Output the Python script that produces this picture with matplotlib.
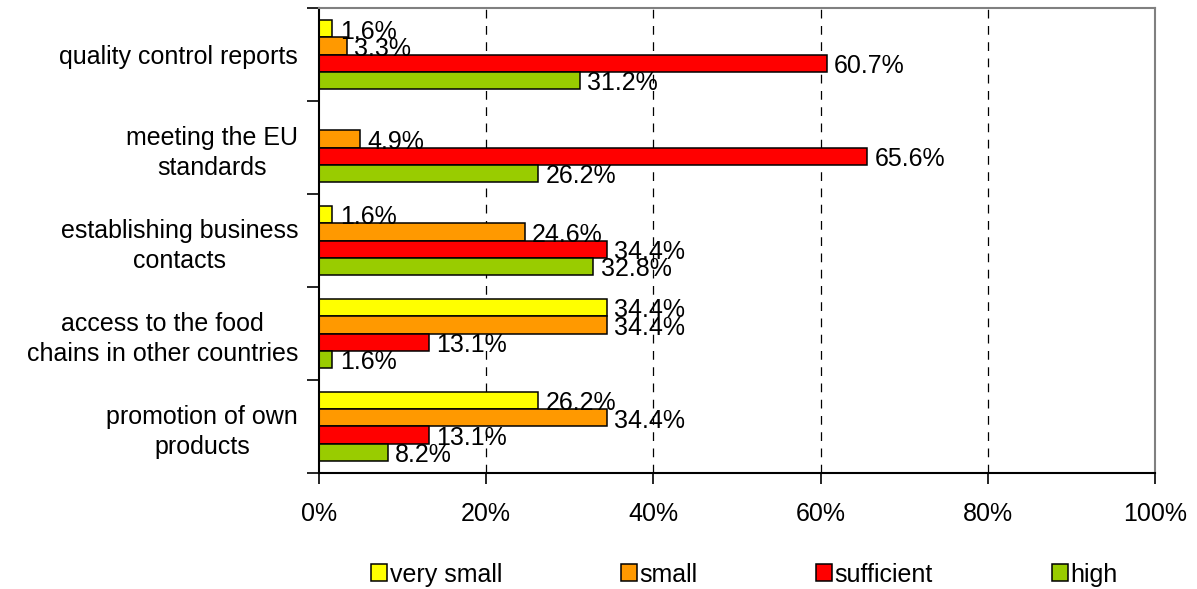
import numpy as np
import matplotlib
matplotlib.use("Agg")
import matplotlib.pyplot as plt
from matplotlib.ticker import FixedLocator, PercentFormatter

plt.rcParams['font.family'] = ['Liberation Sans', 'DejaVu Sans']

categories = [
    "quality control reports",
    "meeting the EU\nstandards",
    "establishing business\ncontacts",
    "access to the food\nchains in other countries",
    "promotion of own\nproducts",
]
series_names = ["very small", "small", "sufficient", "high"]
very_small = [1.6, 0.0, 1.6, 34.4, 26.2]
small = [3.3, 4.9, 24.6, 34.4, 34.4]
sufficient = [60.7, 65.6, 34.4, 13.1, 13.1]
high = [31.2, 26.2, 32.8, 1.6, 8.2]
colors = ["#FFFF00", "#FF9900", "#FF0000", "#99CC00"]

FS = 18

fig = plt.figure(figsize=(11.97, 5.89), dpi=100)
ax = fig.add_axes([0.2665, 0.197, 0.6985, 0.789])

y = np.arange(len(categories))
h = 0.186
for i, (name, vals, col) in enumerate(zip(series_names, [very_small, small, sufficient, high], colors)):
    pos = y + (i - 1.5) * h
    ax.barh(pos, vals, height=h, color=col, edgecolor="black", linewidth=1.1, label=name)
    for p, v in zip(pos, vals):
        if v > 0:
            ax.text(v + 0.9, p + 0.03, "%.1f%%" % v, va="center", ha="left", fontsize=FS)

ax.set_xlim(0, 100)
ax.set_ylim(len(categories) - 0.5, -0.5)

ax.xaxis.set_major_locator(FixedLocator([0, 20, 40, 60, 80, 100]))
ax.xaxis.set_major_formatter(PercentFormatter(decimals=0))
ax.tick_params(axis="x", direction="out", length=8, width=1.2, pad=13, labelsize=FS)
for xv in [20, 40, 60, 80]:
    ax.axvline(xv, color="black", linestyle=(0, (7, 6)), linewidth=0.9, zorder=0)

ax.set_yticks(y)
ax.set_yticklabels(categories, fontsize=FS, ha="right", multialignment="center",
                   linespacing=1.32)
ax.tick_params(axis="y", which="major", length=0, pad=15)
ax.yaxis.set_minor_locator(FixedLocator(np.arange(-0.5, len(categories), 1.0)))
ax.tick_params(axis="y", which="minor", direction="out", length=9, width=1.2)

for side in ("left", "bottom"):
    ax.spines[side].set_color("black")
    ax.spines[side].set_linewidth(1.5)
for side in ("top", "right"):
    ax.spines[side].set_color("#808080")
    ax.spines[side].set_linewidth(1.5)

fig.legend(loc="center left", bbox_to_anchor=(0.31, 0.0246), ncol=4, frameon=False,
           fontsize=FS, handlelength=0.64, handleheight=0.64, handletextpad=0.1,
           columnspacing=4.75, borderaxespad=0, borderpad=0)

fig.savefig("out.png", dpi=100)
